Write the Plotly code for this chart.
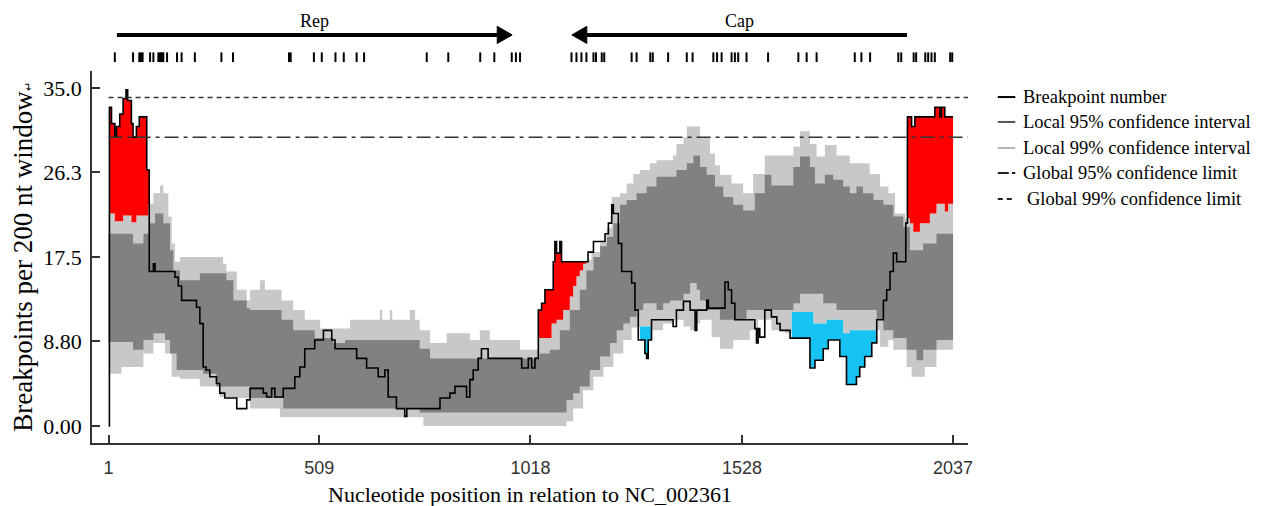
import numpy as np
import plotly.graph_objects as go

SEQ_END = 2037

# ---- Breakpoint number (step line: change-point positions and values)
bp_pos = [1, 3, 8, 16, 20, 28, 36, 43, 47, 56, 60, 68, 75, 93, 99, 109, 113, 161, 169, 177,
          213, 221, 229, 236, 245, 261, 269, 281, 310, 334,
          342, 374, 382, 394, 402, 422, 450, 462, 474, 498, 519, 539, 547, 599, 623, 651, 667, 675, 695,
          715, 720, 800, 824, 836, 864, 872, 880, 892, 900, 916, 997, 1013, 1021, 1029, 1037, 1045, 1053,
          1073, 1077, 1081, 1089, 1093, 1157, 1170, 1198, 1206, 1214, 1218, 1230, 1238, 1262, 1270,
          1278, 1294, 1298, 1302, 1310, 1362, 1370, 1387, 1403, 1415, 1419,
          1427, 1443, 1447, 1487, 1495, 1503, 1511, 1559, 1563, 1567, 1571, 1583, 1599, 1612, 1620,
          1644, 1692, 1704, 1724, 1736, 1764, 1780,
          1804, 1812, 1824, 1841, 1853, 1869, 1877, 1885, 1893, 1901, 1923, 1927, 1937, 1945,
          1993, 2005, 2009, 2017]
bp_val = [0.0, 33.0, 31.3, 29.9, 31.0, 32.3, 33.9, 34.8, 33.7, 31.3, 29.9, 31.0, 32.0, 26.5, 16.0, 16.8, 16.0, 15.4, 14.5, 13.0,
          12.3, 10.6, 6.1, 5.8, 5.1, 4.4, 3.4, 2.9, 1.8, 2.7,
          3.9, 3.4, 3.0, 3.9, 3.0, 3.9, 5.1, 6.1, 8.0, 8.9, 9.9, 8.9, 8.0, 7.0, 6.0, 5.1, 5.8, 3.0, 1.8,
          1.0, 1.8, 2.9, 3.4, 4.1, 3.0, 4.8, 5.8, 7.0, 8.0, 7.0, 6.0, 7.0, 6.0, 7.0, 12.0, 12.7, 14.1,
          17.0, 19.1, 17.9, 19.1, 17.0, 18.0, 19.1, 19.9, 21.0, 22.9, 22.0, 18.9, 16.0, 14.8, 12.0,
          8.9, 7.5, 7.0, 8.9, 11.0, 10.3, 12.0, 12.9, 12.0, 9.9, 12.0,
          12.0, 13.0, 12.2, 14.9, 14.1, 12.7, 11.0, 10.1, 8.6, 10.1, 9.2, 12.0, 11.3, 10.6, 9.9,
          9.1, 6.0, 6.8, 8.0, 8.9, 7.2, 4.3,
          5.1, 6.1, 7.2, 8.6, 11.0, 13.0, 14.1, 16.0, 17.9, 17.0, 21.0, 32.0, 31.0, 32.0,
          33.0, 32.0, 33.0, 32.0]

# ---- Local 99% confidence interval (upper / lower)
u99_pos = [1, 16, 36, 56, 68, 97, 109, 125, 133, 145, 153, 161, 173, 277, 285, 310, 334,
           342, 366, 378, 418, 446, 474, 511, 583, 655, 661, 679, 685,
           727, 740, 751, 776, 816, 872, 896, 920, 993, 1037,
           1069, 1081, 1097, 1113, 1121, 1129, 1137, 1145, 1153, 1165, 1186, 1202, 1214, 1234, 1250,
           1266, 1282, 1306, 1322, 1362, 1370, 1387, 1395,
           1427, 1451, 1463, 1475, 1503, 1531, 1555, 1583, 1652, 1668, 1692, 1708, 1728, 1756,
           1788, 1836, 1861, 1881, 1897, 1921, 1933, 1941, 1957, 1981, 1997, 2017, 2025]
u99_val = [22.0, 21.2, 21.8, 21.1, 21.8, 23.0, 24.1, 24.9, 24.1, 21.7, 18.9, 17.0, 17.5, 16.8, 16.0, 14.1, 13.0,
           14.1, 15.1, 14.1, 13.0, 12.0, 11.0, 10.1, 11.0, 12.0, 11.0, 12.0, 11.0,
           12.0, 11.0, 9.9, 8.6, 9.6, 8.9, 9.9, 8.9, 7.9, 9.1,
           10.6, 11.0, 12.0, 13.4, 14.5, 15.5, 16.1, 16.8, 17.2, 18.0, 19.0, 20.5, 23.7, 24.1, 25.1,
           26.1, 26.5, 27.2, 27.5, 28.0, 29.2, 29.9, 31.0,
           29.8, 28.2, 27.0, 26.0, 25.1, 24.1, 26.1, 28.0, 28.9, 30.5, 29.2, 27.9, 29.1, 28.0,
           27.2, 26.1, 24.8, 24.1, 22.0, 21.5, 21.0, 20.1, 21.0, 22.0, 23.0, 22.2, 23.0]
l99_pos = [1, 32, 85, 109, 137, 153, 173, 221, 269, 302,
           342, 414, 760,
           1105, 1121, 1145, 1170, 1194, 1218, 1242, 1262, 1282, 1310, 1338, 1362, 1387, 1403, 1419,
           1427, 1455, 1475, 1507, 1547, 1567, 1599, 1632, 1648, 1700, 1732, 1772,
           1788, 1861, 1881, 1893, 1925, 1937, 1969, 1997]
l99_val = [5.4, 6.1, 7.5, 8.6, 7.5, 5.1, 4.9, 4.1, 3.0, 2.9,
           1.8, 0.9, 0.0,
           0.5, 1.8, 3.7, 5.1, 6.1, 7.5, 8.9, 10.2, 10.3, 9.9, 10.6, 11.0, 10.3, 9.9, 10.6,
           11.0, 9.2, 8.0, 8.9, 9.9, 11.0, 9.9, 9.6, 11.8, 10.6, 11.0, 9.6,
           9.9, 8.2, 8.9, 7.9, 6.1, 5.1, 6.1, 7.9]

# ---- Local 95% confidence interval (upper / lower)
u95_pos = [1, 60, 85, 101, 113, 133, 149, 157, 173, 221, 285, 302, 334,
           342, 418, 446, 498, 543, 571,
           703, 751, 776, 1040,
           1065, 1089, 1113, 1137, 1153, 1170, 1186, 1202, 1218, 1234, 1250, 1274, 1298, 1322, 1370, 1395, 1411,
           1427, 1443, 1463, 1483, 1507, 1531, 1559, 1583, 1599, 1652, 1668, 1692, 1704, 1728, 1748, 1772,
           1788, 1804, 1820, 1845, 1869, 1893, 1917, 1933, 1965, 1997]
u95_val = [19.9, 18.9, 19.9, 21.0, 22.0, 21.0, 18.2, 16.1, 15.1, 15.8, 15.1, 13.0, 12.2,
           12.0, 11.0, 9.9, 9.1, 8.6, 8.9,
           8.9, 8.0, 7.0, 7.5,
           7.9, 9.9, 12.0, 14.1, 16.1, 17.5, 18.6, 19.6, 21.0, 22.9, 23.4, 24.1, 24.8, 25.8, 26.5, 27.2, 28.0,
           26.8, 26.0, 24.8, 23.7, 22.9, 22.3, 24.1, 26.0, 24.9, 26.8, 27.9, 26.8, 25.1, 26.0, 25.5, 24.8,
           24.1, 24.8, 24.1, 23.4, 22.9, 21.7, 20.6, 18.2, 18.9, 19.9]
l95_pos = [1, 60, 85, 109, 137, 149, 165, 229, 261,
           342, 422, 751,
           1105, 1121, 1137, 1161, 1186, 1210, 1226, 1242, 1258, 1274, 1290, 1322, 1338, 1354, 1387, 1403, 1419,
           1427, 1443, 1475, 1539, 1652, 1668, 1724, 1756,
           1853, 1869, 1893, 1925, 1949, 1965, 1997]
l95_val = [8.7, 7.9, 8.9, 9.6, 8.9, 7.5, 5.8, 5.4, 4.1,
           2.9, 1.8, 1.4,
           2.7, 3.4, 4.1, 5.8, 7.2, 8.6, 9.9, 10.6, 11.3, 12.0, 12.7, 12.0, 12.7, 13.0, 13.7, 14.8, 14.1,
           13.0, 12.0, 11.0, 12.0, 12.7, 13.7, 12.7, 12.0,
           11.0, 9.9, 9.1, 7.9, 6.8, 7.9, 8.9]

# ---- Significant hot / cold spots (position ranges)
hot_spots = [(1, 99), (1037, 1153), (1923, 2037)]
cold_spots = [(1282, 1310), (1648, 1853)]

# ---- Global confidence limits
global95 = 29.9
global99 = 34.0

# ---- Gene map and recombination breakpoint positions
genes = [("Rep", 21, 974), ("Cap", 1926, 1118)]
breakpoints = [16, 60, 75, 79, 83, 101, 109, 121, 124, 127, 130, 133, 142, 166, 177, 209, 273, 301, 436, 440,
               496, 515, 548, 568, 599, 617, 768, 820, 897, 931, 973, 983, 993,
               1117, 1129, 1141, 1153, 1170, 1176, 1190, 1196, 1262, 1274, 1307, 1313, 1350, 1395, 1409,
               1459, 1468, 1479, 1503, 1511, 1519, 1539, 1591, 1664, 1684, 1708, 1800, 1816, 1837,
               1905, 1912, 1942, 1948, 1970, 1977, 1985, 1993, 2030, 2035]

x_ticks = [1, 509, 1018, 1528, 2037]
y_ticks = [0.0, 8.8, 17.5, 26.3, 35.0]
y_ticktext = ["0.00", "8.80", "17.5", "26.3", "35.0"]

X_RANGE = [-39, 2073]
Y_RANGE = [-1.76, 36.75]

SERIF = "Liberation Serif, Times New Roman, serif"
LIGHT = "#c8c8c8"
DARK = "#818181"
RED = "#ff0000"
BLUE = "#16c3f2"


def step_path(pos, val, end=SEQ_END):
    xs, ys = [], []
    for i, (p, v) in enumerate(zip(pos, val)):
        nxt = pos[i + 1] if i + 1 < len(pos) else end
        xs += [p, nxt]
        ys += [v, v]
    return xs, ys


def step_eval(pos, val, x):
    idx = np.searchsorted(np.asarray(pos), np.asarray(x), side="right") - 1
    return np.asarray(val, dtype=float)[np.clip(idx, 0, None)]


def band_polygon(upos, uval, lpos, lval):
    ux, uy = step_path(upos, uval)
    lx, ly = step_path(lpos, lval)
    return ux + lx[::-1], uy + ly[::-1]


def spot_polygon(a, b, ref_pos, ref_val, hot=True):
    grid = sorted(set([a, b] + [p for p in list(bp_pos) + list(ref_pos) if a < p < b]))
    starts = np.array(grid[:-1], dtype=float)
    line_v = step_eval(bp_pos, bp_val, starts)
    ref_v = step_eval(ref_pos, ref_val, starts)
    if hot:
        top, bot = np.maximum(line_v, ref_v), ref_v
    else:
        top, bot = ref_v, np.minimum(line_v, ref_v)
    tx, ty, bx, by = [], [], [], []
    for i in range(len(starts)):
        tx += [grid[i], grid[i + 1]]
        ty += [top[i], top[i]]
        bx += [grid[i], grid[i + 1]]
        by += [bot[i], bot[i]]
    return tx + bx[::-1], ty + by[::-1]


fig = go.Figure()

# Local 99% band
x, y = band_polygon(u99_pos, u99_val, l99_pos, l99_val)
fig.add_trace(go.Scatter(x=x, y=y, fill="toself", fillcolor=LIGHT, mode="lines",
                         line=dict(width=0, color=LIGHT), hoverinfo="skip", showlegend=False))
# Local 95% band
x, y = band_polygon(u95_pos, u95_val, l95_pos, l95_val)
fig.add_trace(go.Scatter(x=x, y=y, fill="toself", fillcolor=DARK, mode="lines",
                         line=dict(width=0, color=DARK), hoverinfo="skip", showlegend=False))
# Hot spots
for a, b in hot_spots:
    x, y = spot_polygon(a, b, u99_pos, u99_val, hot=True)
    fig.add_trace(go.Scatter(x=x, y=y, fill="toself", fillcolor=RED, mode="lines",
                             line=dict(width=0, color=RED), hoverinfo="skip", showlegend=False))
# Cold spots
for a, b in cold_spots:
    x, y = spot_polygon(a, b, l99_pos, l99_val, hot=False)
    fig.add_trace(go.Scatter(x=x, y=y, fill="toself", fillcolor=BLUE, mode="lines",
                             line=dict(width=0, color=BLUE), hoverinfo="skip", showlegend=False))

# Breakpoint number line
lx, ly = step_path(bp_pos, bp_val)
fig.add_trace(go.Scatter(x=lx, y=ly, mode="lines", line=dict(color="black", width=1.6),
                         showlegend=False, name="Breakpoint number"))

shapes = []
# Global limits
shapes.append(dict(type="line", xref="x", yref="y", x0=1, x1=X_RANGE[1], y0=global99, y1=global99,
                   line=dict(color="#333333", width=1.5, dash="5px,4px")))
shapes.append(dict(type="line", xref="x", yref="y", x0=1, x1=X_RANGE[1], y0=global95, y1=global95,
                   line=dict(color="#333333", width=1.5, dash="14px,5px,4px,5px")))

# Gene arrows
ARROW_Y = 1.097
HEAD_LEN = 36
HEAD_H = 0.023
for name, start, end in genes:
    direction = 1 if end > start else -1
    base = end - direction * HEAD_LEN
    shapes.append(dict(type="line", xref="x", yref="paper", x0=start, x1=base, y0=ARROW_Y, y1=ARROW_Y,
                       line=dict(color="black", width=4)))
    shapes.append(dict(type="path", xref="x", yref="paper",
                       path=f"M {base},{ARROW_Y - HEAD_H} L {end},{ARROW_Y} L {base},{ARROW_Y + HEAD_H} Z",
                       fillcolor="black", line=dict(color="black", width=1)))

# Breakpoint tick marks
for p in breakpoints:
    shapes.append(dict(type="line", xref="x", yref="paper", x0=p, x1=p, y0=1.024, y1=1.050,
                       line=dict(color="black", width=2)))

annotations = []
for name, start, end in genes:
    annotations.append(dict(x=(start + end) / 2, y=1.134, xref="x", yref="paper", text=name,
                            showarrow=False, xanchor="center", yanchor="middle", borderpad=0,
                            font=dict(family=SERIF, size=18, color="black")))

# Legend (drawn manually)
legend_rows = [
    ("Breakpoint number", "black", "solid", 1.061),
    ("Local 95% confidence interval", "#555555", "solid", 1.061),
    ("Local 99% confidence interval", "#b4b4b4", "solid", 1.061),
    ("Global 95% confidence limit", "#222222", "11px,3px,4px,20px", 1.061),
    ("Global 99% confidence limit", "#222222", "5px,4px", 1.065),
]
row_y = [0.930, 0.863, 0.793, 0.726, 0.656]
for (label, color, dash, tx), yy in zip(legend_rows, row_y):
    shapes.append(dict(type="line", xref="paper", yref="paper", x0=1.034, x1=1.054, y0=yy, y1=yy,
                       line=dict(color=color, width=2, dash=dash)))
    annotations.append(dict(x=tx, y=yy, xref="paper", yref="paper", text=label, showarrow=False,
                            xanchor="left", yanchor="middle",
                            font=dict(family=SERIF, size=18.5, color="black")))

fig.update_layout(
    width=1262, height=506,
    margin=dict(l=84, r=302, t=63, b=71, autoexpand=False),
    paper_bgcolor="white", plot_bgcolor="white",
    shapes=shapes, annotations=annotations, showlegend=False,
    xaxis=dict(range=X_RANGE, tickvals=x_ticks, ticktext=[str(v) for v in x_ticks],
               automargin=False,
               ticks="inside", ticklen=8, tickwidth=1.5, tickcolor="#333333",
               showline=True, linecolor="#333333", linewidth=1.5, mirror=False,
               showgrid=False, zeroline=False, ticklabelstandoff=8,
               tickfont=dict(family="Liberation Sans, Arial, sans-serif", size=18, color="#333333"),
               title=dict(text="Nucleotide position in relation to NC_002361", standoff=9,
                          font=dict(family=SERIF, size=22, color="black"))),
    yaxis=dict(range=Y_RANGE, tickvals=y_ticks, ticktext=y_ticktext,
               automargin=False,
               ticks="inside", ticklen=8, tickwidth=1.5, tickcolor="#333333",
               showline=True, linecolor="#333333", linewidth=1.5,
               showgrid=False, zeroline=False, ticklabelstandoff=4,
               tickfont=dict(family=SERIF, size=22, color="black"),
               title=dict(text="Breakpoints per 200 nt window<span style='font-size:11px'>\u21b5</span>",
                          standoff=6, font=dict(family=SERIF, size=27, color="black"))),
)

fig.write_html("out.html")
